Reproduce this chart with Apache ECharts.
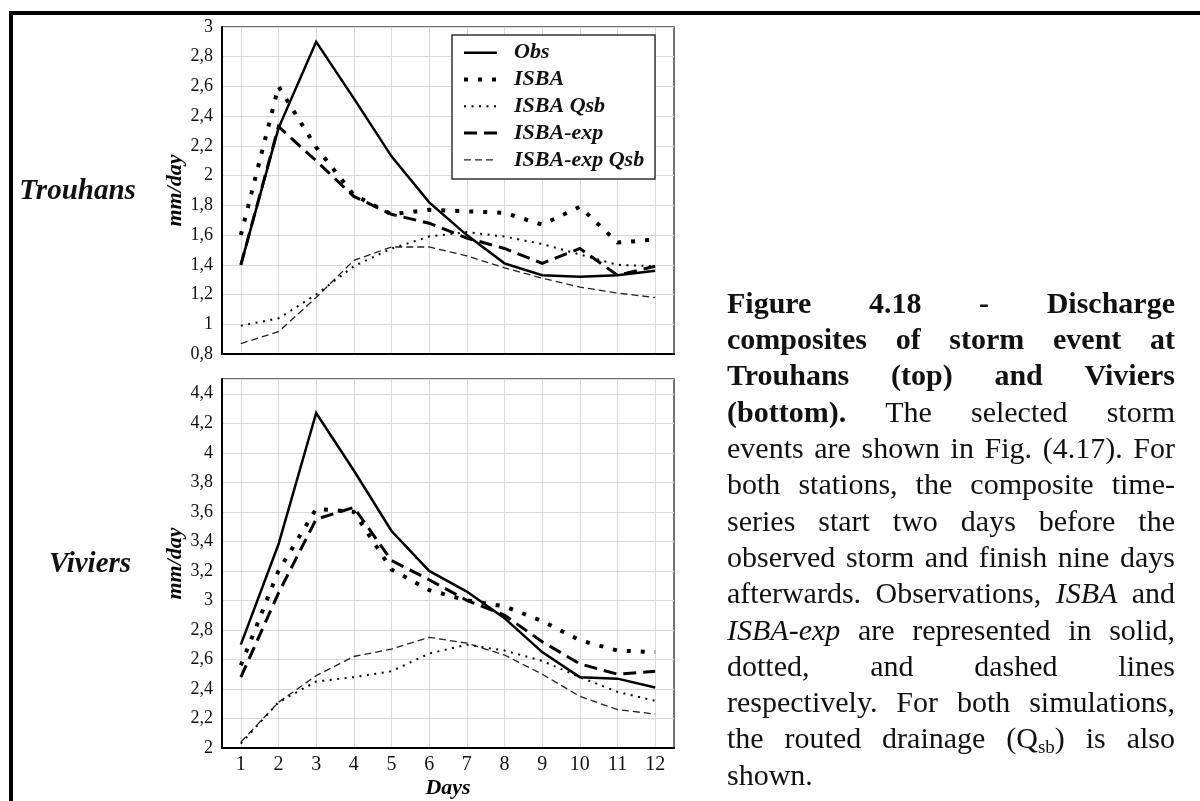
<!DOCTYPE html>
<html><head><meta charset="utf-8">
<script src="https://cdn.jsdelivr.net/npm/echarts@6/dist/echarts.min.js"></script>
<style>html,body{margin:0;padding:0;background:#fff;}#c{width:1200px;height:801px;}</style>
</head><body><div id="c"></div>
<script>
// ---------- data ----------
const days = ['1','2','3','4','5','6','7','8','9','10','11','12'];
const seriesNames = ['Obs','ISBA','ISBA Qsb','ISBA-exp','ISBA-exp Qsb'];
const stationNames = ['Trouhans','Viviers'];

const trouhansObs     = [1.40, 2.32, 2.90, 2.52, 2.13, 1.82, 1.60, 1.41, 1.33, 1.32, 1.33, 1.36];
const trouhansIsba    = [1.60, 2.60, 2.19, 1.87, 1.74, 1.77, 1.76, 1.75, 1.67, 1.79, 1.55, 1.57];
const trouhansIsbaQsb = [0.99, 1.04, 1.20, 1.39, 1.51, 1.59, 1.62, 1.59, 1.54, 1.47, 1.40, 1.39];
const trouhansExp     = [1.40, 2.33, 2.10, 1.86, 1.74, 1.68, 1.58, 1.51, 1.41, 1.51, 1.33, 1.39];
const trouhansExpQsb  = [0.87, 0.95, 1.18, 1.43, 1.52, 1.52, 1.46, 1.38, 1.31, 1.25, 1.21, 1.18];

const viviersObs      = [2.70, 3.38, 4.27, 3.88, 3.47, 3.20, 3.06, 2.88, 2.65, 2.48, 2.47, 2.41];
const viviersIsba     = [2.56, 3.20, 3.62, 3.60, 3.21, 3.07, 3.00, 2.96, 2.86, 2.73, 2.66, 2.65];
const viviersIsbaQsb  = [2.03, 2.31, 2.45, 2.48, 2.52, 2.64, 2.70, 2.66, 2.59, 2.48, 2.38, 2.32];
const viviersExp      = [2.48, 3.05, 3.55, 3.63, 3.27, 3.14, 3.00, 2.90, 2.72, 2.57, 2.50, 2.52];
const viviersExpQsb   = [2.04, 2.31, 2.49, 2.62, 2.67, 2.75, 2.71, 2.63, 2.50, 2.35, 2.26, 2.23];

const yTop = {min: 0.8, max: 3, step: 0.2};
const yBottom = {min: 2, max: 4.5, step: 0.2};

// ---------- styles ----------
const SERIF = '"Liberation Serif", "DejaVu Serif", serif';
const lineStyles = {
  'Obs':          {width: 2.5, type: 'solid', color: '#000'},
  'ISBA':         {width: 4,   type: [4, 10], color: '#000'},
  'ISBA Qsb':     {width: 2,   type: [2, 5.5], color: '#000'},
  'ISBA-exp':     {width: 3,   type: [13, 7], color: '#000'},
  'ISBA-exp Qsb': {width: 1.3, type: [7, 4], color: '#222'}
};
const zOrder = {'Obs': 6, 'ISBA': 5, 'ISBA Qsb': 3, 'ISBA-exp': 4, 'ISBA-exp Qsb': 2};

const fmt = v => String(Math.round(v * 10) / 10).replace('.', ',');
const gridLine = {show: true, alignWithLabel: true, lineStyle: {color: '#d8d8d8', width: 1}};

function mkSeries(name, data, idx) {
  const ls = lineStyles[name];
  return {
    name, type: 'line', data, xAxisIndex: idx, yAxisIndex: idx,
    symbol: 'none', z: zOrder[name], silent: true,
    itemStyle: {color: ls.color},
    lineStyle: {color: ls.color, width: ls.width, type: ls.type, cap: 'butt', join: 'miter'}
  };
}
const topData = [trouhansObs, trouhansIsba, trouhansIsbaQsb, trouhansExp, trouhansExpQsb];
const botData = [viviersObs, viviersIsba, viviersIsbaQsb, viviersExp, viviersExpQsb];
const series = [];
seriesNames.forEach((n, i) => series.push(mkSeries(n, topData[i], 0)));
seriesNames.forEach((n, i) => series.push(mkSeries(n, botData[i], 1)));

function yAxis(idx, r) {
  return {
    gridIndex: idx, type: 'value', min: r.min, max: r.max, interval: r.step,
    axisLine: {show: true, lineStyle: {color: '#000', width: 2}},
    axisTick: {show: false},
    axisLabel: {formatter: fmt, fontFamily: SERIF, fontSize: 18, color: '#111', margin: 9, showMaxLabel: idx === 0},
    splitLine: {show: true, lineStyle: {color: '#d8d8d8', width: 1}},
    name: 'mm/day', nameLocation: 'middle', nameRotate: 90, nameGap: 36,
    nameTextStyle: {fontFamily: SERIF, fontSize: 22, fontWeight: 'bold', fontStyle: 'italic', color: '#000', lineHeight: 22}
  };
}
function xAxis(idx) {
  const o = {
    gridIndex: idx, type: 'category', data: days, boundaryGap: true,
    axisLine: {show: true, lineStyle: {color: '#000', width: 2}},
    axisTick: {show: false},
    axisLabel: {show: idx === 1, fontFamily: SERIF, fontSize: 20, color: '#111', margin: 7},
    splitLine: gridLine
  };
  if (idx === 1) {
    o.name = 'Days'; o.nameLocation = 'middle'; o.nameGap = 29;
    o.nameTextStyle = {fontFamily: SERIF, fontSize: 22, fontWeight: 'bold', fontStyle: 'italic', color: '#000', lineHeight: 22};
  }
  return o;
}

// ---------- caption (justified text) ----------
const B = 'b', N = 'n', I = 'i', S = 's';
const seg = (st, phrase) => phrase.split(' ').map(t => [[st, t]]);
const captionLines = [
  seg(B, 'Figure 4.18 - Discharge'),
  seg(B, 'composites of storm event at'),
  seg(B, 'Trouhans (top) and Viviers'),
  [...seg(B, '(bottom).'), ...seg(N, 'The selected storm')],
  seg(N, 'events are shown in Fig. (4.17). For'),
  seg(N, 'both stations, the composite time-'),
  seg(N, 'series start two days before the'),
  seg(N, 'observed storm and finish nine days'),
  [...seg(N, 'afterwards. Observations,'), ...seg(I, 'ISBA'), ...seg(N, 'and')],
  [...seg(I, 'ISBA-exp'), ...seg(N, 'are represented in solid,')],
  seg(N, 'dotted, and dashed lines'),
  seg(N, 'respectively. For both simulations,'),
  [...seg(N, 'the routed drainage'), [[N, '(Q'], [S, 'sb'], [N, ')']], ...seg(N, 'is also')],
  seg(N, 'shown.')
];
const CAP_X0 = 727, CAP_X1 = 1175, CAP_BASE0 = 315, CAP_LH = 36.3, CAP_FS = 30, SUB_FS = 19;
const mctx = document.createElement('canvas').getContext('2d');
function runFont(st) {
  const size = st === S ? SUB_FS : CAP_FS;
  return (st === I ? 'italic ' : '') + (st === B ? 'bold ' : '') + size + 'px ' + SERIF;
}
function runW(run) { mctx.font = runFont(run[0]); return mctx.measureText(run[1]).width; }
const wordW = w => w.reduce((s, r) => s + runW(r), 0);
const graphics = [];
captionLines.forEach((words, li) => {
  const last = li === captionLines.length - 1;
  const widths = words.map(wordW);
  const total = widths.reduce((a, b) => a + b, 0);
  mctx.font = runFont(N);
  const gap = last ? mctx.measureText(' ').width : (CAP_X1 - CAP_X0 - total) / (words.length - 1);
  const midY = CAP_BASE0 + li * CAP_LH - 10;
  let x = CAP_X0;
  words.forEach((w, wi) => {
    let rx = x;
    w.forEach(run => {
      const st = run[0];
      graphics.push({
        type: 'text', x: rx, y: st === S ? midY + 7 : midY, silent: true,
        style: {
          text: run[1], fill: '#111',
          fontFamily: SERIF, fontSize: st === S ? SUB_FS : CAP_FS,
          fontWeight: st === B ? 'bold' : 'normal', fontStyle: st === I ? 'italic' : 'normal',
          textAlign: 'left', textVerticalAlign: 'middle'
        }
      });
      rx += runW(run);
    });
    x += widths[wi] + gap;
  });
});

// station labels
[[stationNames[0], 77.5, 192], [stationNames[1], 90, 565]].forEach(([t, x, y]) => {
  graphics.push({
    type: 'text', x, y, silent: true,
    style: {text: t, fill: '#111', fontFamily: SERIF, fontSize: 29, fontWeight: 'bold', fontStyle: 'italic',
            textAlign: 'center', textVerticalAlign: 'middle'}
  });
});
// page frame
graphics.push({type: 'polyline', silent: true, z: 10,
  shape: {points: [[11, 801], [11, 13], [1200, 13]]},
  style: {stroke: '#000', lineWidth: 4, fill: null}});
// legend box
graphics.push({type: 'rect', silent: true, z: 3,
  shape: {x: 452, y: 35, width: 203, height: 144},
  style: {fill: '#fff', stroke: '#333', lineWidth: 1.5}});

// ---------- chart ----------
const chart = echarts.init(document.getElementById('c'), null, {renderer: 'canvas'});
chart.setOption({
  animation: false,
  backgroundColor: '#fff',
  grid: [
    {left: 222, top: 27, width: 452, height: 327, show: true, borderColor: '#444', borderWidth: 1.5, backgroundColor: 'transparent'},
    {left: 222, top: 379, width: 452, height: 369, show: true, borderColor: '#444', borderWidth: 1.5, backgroundColor: 'transparent'}
  ],
  xAxis: [xAxis(0), xAxis(1)],
  yAxis: [yAxis(0, yTop), yAxis(1, yBottom)],
  legend: {
    orient: 'vertical', left: 462, top: 41.7, padding: 0, itemGap: 4.8,
    itemWidth: 33, itemHeight: 14, selectedMode: false, z: 4,
    itemStyle: {opacity: 0, borderWidth: 0},
    textStyle: {fontFamily: SERIF, fontSize: 22, fontWeight: 'bold', fontStyle: 'italic', color: '#111', lineHeight: 22, padding: [0, 0, 0, 12]},
    data: seriesNames.map(n => ({name: n,
      itemStyle: {opacity: 0, borderWidth: 0},
      lineStyle: {width: lineStyles[n].width, type: lineStyles[n].type, color: lineStyles[n].color, cap: 'butt', opacity: 1}}))
  },
  graphic: graphics,
  series
});
</script>
</body></html>
